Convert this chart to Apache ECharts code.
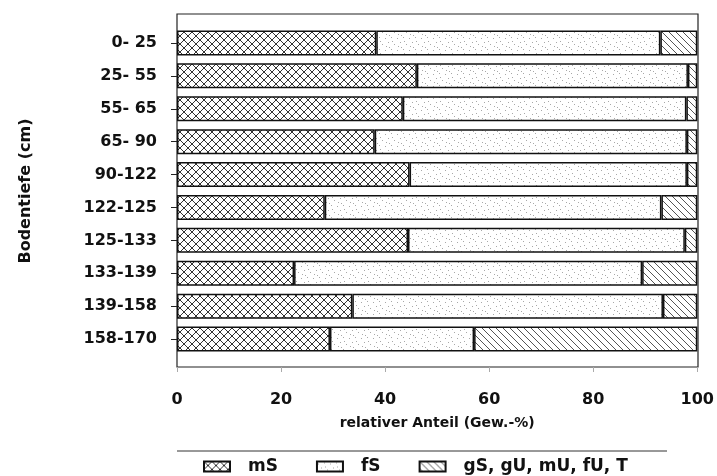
<!DOCTYPE html>
<html><head><meta charset="utf-8">
<script src="https://cdn.jsdelivr.net/npm/echarts@6/dist/echarts.min.js"></script>
<style>html,body{margin:0;padding:0;background:#fff}#c{width:717px;height:476px}</style>
</head><body><div id="c"></div>
<script>
const categories = ['0- 25','25- 55','55- 65','65- 90','90-122','122-125','125-133','133-139','139-158','158-170'];
const mS   = [38.3, 46.1, 43.4, 38.0, 44.7, 28.4, 44.4, 22.5, 33.7, 29.4];
const fS   = [54.6, 52.1, 54.5, 60.0, 53.3, 64.7, 53.2, 66.9, 59.7, 27.7];
const rest = [7.1, 1.8, 2.1, 2.0, 2.0, 6.9, 2.4, 10.6, 6.6, 42.9];
const seriesNames = ['mS', 'fS', 'gS, gU, mU, fU, T'];
const xTicks = [0, 20, 40, 60, 80, 100];

function pattern(kind) {
  const s = kind === 'dots' ? 12 : (kind === 'cross' ? 8 : 7);
  const c = document.createElement('canvas');
  c.width = s; c.height = s;
  const ctx = c.getContext('2d');
  ctx.fillStyle = '#fff'; ctx.fillRect(0, 0, s, s);
  if (kind === 'dots') {
    ctx.fillStyle = '#a8a8a8';
    [[1,2],[7,1],[4,6],[10,8],[2,10],[8,5],[5,11]].forEach(p => ctx.fillRect(p[0], p[1], 1, 1));
  } else {
    ctx.strokeStyle = kind === 'cross' ? '#333' : '#555';
    ctx.lineWidth = 1;
    for (let k = -s; k <= s; k += s) {
      ctx.beginPath(); ctx.moveTo(k, 0); ctx.lineTo(k + s, s); ctx.stroke();
      if (kind === 'cross') { ctx.beginPath(); ctx.moveTo(k, s); ctx.lineTo(k + s, 0); ctx.stroke(); }
    }
  }
  return { image: c, repeat: 'repeat' };
}
const fills = [pattern('cross'), pattern('dots'), pattern('hatch')];
const values = [mS, fS, rest];

const chart = echarts.init(document.getElementById('c'), null, { renderer: 'canvas' });
const font = '"DejaVu Sans", "Liberation Sans", Arial, sans-serif';
chart.setOption({
  animation: false,
  textStyle: { fontFamily: font },
  grid: { left: 177, right: 19, top: 26.5, bottom: 120.5 },
  xAxis: {
    type: 'value', min: 0, max: 100, interval: 20, offset: 11.5,
    axisLine: { show: false },
    axisTick: { show: true, length: 5, inside: false, lineStyle: { color: '#aaa' } },
    splitLine: { show: false },
    axisLabel: { color: '#111', fontSize: 16, fontWeight: 'bold', margin: 25, fontFamily: font },
    name: 'relativer Anteil (Gew.-%)', nameLocation: 'middle', nameGap: 49,
    nameTextStyle: { color: '#111', fontSize: 14, fontWeight: 'bold', fontFamily: font }
  },
  yAxis: {
    type: 'category', data: categories, inverse: true,
    axisLine: { show: false },
    axisTick: { show: true, alignWithLabel: true, length: 6, lineStyle: { color: '#222' } },
    axisLabel: { color: '#111', fontSize: 16, fontWeight: 'bold', margin: 20, fontFamily: font },
    name: 'Bodentiefe (cm)', nameLocation: 'middle', nameGap: 143, nameRotate: 90,
    nameTextStyle: { color: '#111', fontSize: 16, fontWeight: 'bold', fontFamily: font }
  },
  legend: {
    left: 198, top: 453, padding: 5, itemWidth: 26, itemHeight: 10, itemGap: 38, icon: 'rect',
    textStyle: { color: '#111', fontSize: 17, fontWeight: 'bold', fontFamily: font, padding: [0, 0, 0, 13] },
    data: seriesNames
  },
  graphic: [
    { type: 'rect', shape: { x: 177, y: 14, width: 521, height: 353 }, style: { fill: 'none', stroke: '#222', lineWidth: 1.2 }, silent: true },
    { type: 'line', shape: { x1: 177, y1: 451, x2: 667, y2: 451 }, style: { stroke: '#333', lineWidth: 1 }, silent: true }
  ],
  series: seriesNames.map((n, i) => ({
    name: n, type: 'bar', stack: 'all', data: values[i],
    barCategoryGap: '24%',
    itemStyle: { color: fills[i], borderColor: '#111', borderWidth: 1.5 }
  }))
});
</script></body></html>
